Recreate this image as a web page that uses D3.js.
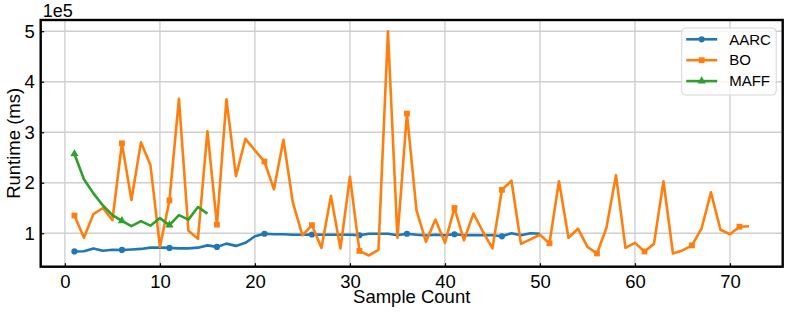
<!DOCTYPE html>
<html lang="en">
<head>
<meta charset="utf-8">
<title>Runtime vs Sample Count</title>
<script src="https://d3js.org/d3.v7.min.js"></script>
<style>
    body { margin: 0; background: #fff; }
    svg { display: block; font-family: "Liberation Sans", Arial, sans-serif; }
</style>
</head>
<body>
<svg width="789" height="314" id="mainsvg"></svg>
<script>
    // runtime values in ms, sample count = position + 1
    const aarc = [64000, 64500, 70000, 65500, 67500, 67000, 68000, 69000, 71500, 71500,
        71000, 70000, 70000, 71500, 76000, 73000, 79500, 75000, 81000, 94000,
        99000, 98000, 98000, 97000, 97000, 97500, 97000, 97000, 97000, 97000,
        96000, 99000, 99000, 99000, 96000, 99000, 97000, 95500, 97000, 96000,
        98000, 96000, 96000, 96000, 96000, 94000, 100000, 96000, 100000, 99000];
    const bo = [135000, 91000, 138000, 150000, 126000, 278000, 166000, 280000, 235000, 73000,
        165000, 366000, 105000, 89000, 302000, 117000, 365000, 213000, 287000, 264000,
        242000, 187000, 285000, 160000, 96000, 116000, 71000, 174000, 70000, 212000,
        65000, 56000, 67000, 500000, 91000, 337000, 146000, 83000, 127000, 81000,
        150000, 86000, 139000, 103000, 70000, 186000, 204000, 79000, 88000, 97000,
        80000, 203000, 91000, 109000, 73000, 60000, 111000, 215000, 71000, 81000,
        64000, 79000, 203000, 60000, 66000, 76000, 109000, 181000, 107000, 98000,
        113000, 114000];
    const maff = [257000, 207000, 179000, 155000, 136000, 124500, 114000, 124000, 115000, 130000,
        116000, 136000, 127000, 152000, 139000];

    const seriesNames = ['AARC', 'BO', 'MAFF'];
    const seriesColors = ['#1f77b4', '#ff7f0e', '#2ca02c'];
    const seriesMarkers = ['circle', 'square', 'triangle'];
    const xTicks = [0, 10, 20, 30, 40, 50, 60, 70];
    const yTicks = [100000, 200000, 300000, 400000, 500000];

    const svg = d3.select('#mainsvg');
    const margin = { top: 20, right: 6.3, bottom: 47.3, left: 40.7 };
    const width = +svg.attr('width');
    const height = +svg.attr('height');
    const innerWidth = width - margin.left - margin.right;
    const innerHeight = height - margin.top - margin.bottom;

    const series = [aarc, bo, maff].map((vals, i) => ({
        name: seriesNames[i],
        color: seriesColors[i],
        marker: seriesMarkers[i],
        points: vals.map((v, j) => ({ x: j + 1, y: v }))
    }));
    const allPts = series.flatMap(s => s.points);

    // matplotlib style 5% padding
    const xExt = d3.extent(allPts, d => d.x);
    const yExt = d3.extent(allPts, d => d.y);
    const xPad = (xExt[1] - xExt[0]) * 0.05;
    const yPad = (yExt[1] - yExt[0]) * 0.05;

    const xScale = d3.scaleLinear()
        .domain([xExt[0] - xPad, xExt[1] + xPad])
        .range([0, innerWidth]);
    const yScale = d3.scaleLinear()
        .domain([yExt[0] - yPad, yExt[1] + yPad])
        .range([innerHeight, 0]);

    const g = svg.append('g')
        .attr('transform', `translate(${margin.left}, ${margin.top})`)
        .attr('id', 'maingroup');

    // grid
    g.append('g').selectAll('line').data(xTicks).join('line')
        .attr('x1', d => xScale(d)).attr('x2', d => xScale(d))
        .attr('y1', 0).attr('y2', innerHeight)
        .attr('stroke', '#bdbdbd').attr('stroke-width', 1);
    g.append('g').selectAll('line').data(yTicks).join('line')
        .attr('y1', d => yScale(d)).attr('y2', d => yScale(d))
        .attr('x1', 0).attr('x2', innerWidth)
        .attr('stroke', '#cfcfcf').attr('stroke-width', 1.5);

    // axes
    const xAxis = d3.axisBottom(xScale).tickValues(xTicks)
        .tickSize(-3.5).tickPadding(8).tickFormat(d3.format('d'));
    const yAxis = d3.axisLeft(yScale).tickValues(yTicks)
        .tickSize(-3.5).tickPadding(6).tickFormat(d => d / 1e5);

    const xAxisGroup = g.append('g').attr('transform', `translate(0, ${innerHeight})`).call(xAxis);
    const yAxisGroup = g.append('g').call(yAxis);
    [xAxisGroup, yAxisGroup].forEach(ag => {
        ag.select('.domain').remove();
        ag.selectAll('.tick line').attr('stroke', '#000').attr('stroke-width', 1.2);
        ag.selectAll('.tick text').attr('font-size', '18.5px').attr('fill', '#000');
    });

    // lines
    const line = d3.line().x(d => xScale(d.x)).y(d => yScale(d.y));
    const symbolType = { circle: d3.symbolCircle, square: d3.symbolSquare, triangle: d3.symbolTriangle };
    const symbolSize = { circle: 30, square: 34, triangle: 30 };

    series.forEach(s => {
        g.append('path')
            .datum(s.points)
            .attr('fill', 'none')
            .attr('stroke', s.color)
            .attr('stroke-width', 2.6)
            .attr('stroke-linejoin', 'round')
            .attr('d', line);
        // marker every 5 points
        g.append('g').selectAll('path')
            .data(s.points.filter((d, i) => i % 5 === 0))
            .join('path')
            .attr('transform', d => `translate(${xScale(d.x)}, ${yScale(d.y)})`)
            .attr('d', d3.symbol().type(symbolType[s.marker]).size(symbolSize[s.marker]))
            .attr('fill', s.color);
    });

    // frame
    g.append('rect')
        .attr('width', innerWidth).attr('height', innerHeight)
        .attr('fill', 'none').attr('stroke', '#000').attr('stroke-width', 2.4);

    // axis labels
    g.append('text')
        .attr('x', innerWidth / 2).attr('y', innerHeight + 36)
        .attr('text-anchor', 'middle').attr('font-size', '18.5px')
        .text('Sample Count');
    g.append('text')
        .attr('transform', 'rotate(-90)')
        .attr('x', -innerHeight / 2).attr('y', -21)
        .attr('text-anchor', 'middle').attr('font-size', '18.5px')
        .text('Runtime (ms)');
    g.append('text')
        .attr('x', 2).attr('y', -3)
        .attr('font-size', '18px')
        .text('1e5');

    // legend
    const legend = g.append('g')
        .attr('transform', `translate(${innerWidth - 101}, 8)`);
    legend.append('rect')
        .attr('width', 94.5).attr('height', 67).attr('rx', 4)
        .attr('fill', 'rgba(255,255,255,0.8)').attr('stroke', '#d5d5d5');
    const items = legend.selectAll('.item').data(series).join('g')
        .attr('class', 'item')
        .attr('transform', (d, i) => `translate(0, ${11.3 + i * 20.9})`);
    items.append('line')
        .attr('x1', 4.5).attr('x2', 35.5)
        .attr('stroke', d => d.color).attr('stroke-width', 2.6);
    items.append('path')
        .attr('transform', 'translate(20, 0)')
        .attr('d', d => d3.symbol().type(symbolType[d.marker]).size(symbolSize[d.marker])())
        .attr('fill', d => d.color);
    items.append('text')
        .attr('x', 47.5).attr('dy', '0.35em')
        .attr('font-size', '15px')
        .text(d => d.name);
</script>
</body>
</html>
